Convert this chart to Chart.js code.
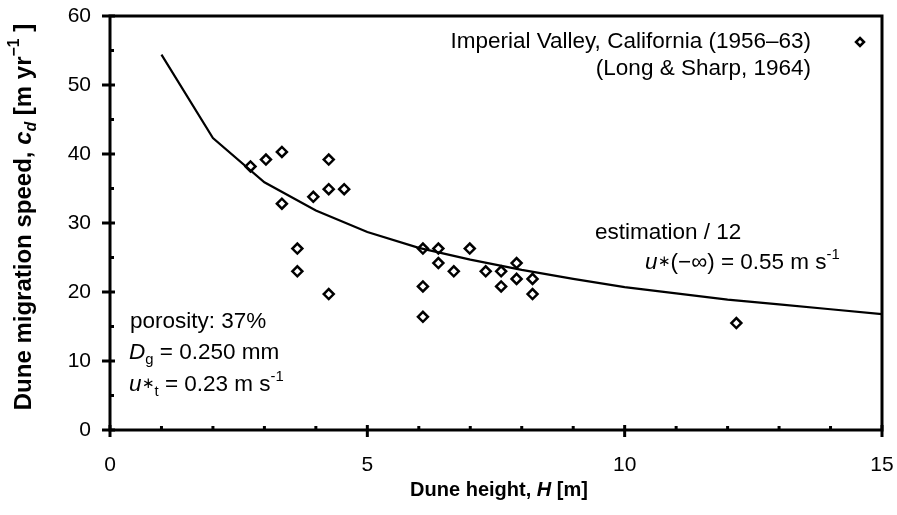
<!DOCTYPE html>
<html>
<head>
<meta charset="utf-8">
<script src="https://cdn.jsdelivr.net/npm/chart.js@4/dist/chart.umd.min.js"></script>
<style>
html,body{margin:0;padding:0;background:#fff;}
#wrap{width:897px;height:515px;position:relative;}
</style>
</head>
<body>
<div id="wrap"><canvas id="c" width="897" height="515"></canvas></div>
<script>
// ---- data ----
const curveH = [1, 2, 3, 4, 5, 6, 7, 8, 9, 10, 11, 12, 13, 14, 15];
const curveC = [54.4, 42.3, 35.9, 31.8, 28.7, 26.4, 24.7, 23.2, 21.9, 20.7, 19.8, 18.9, 18.2, 17.5, 16.8];
const obsH = [2.73, 3.03, 3.34, 3.34, 3.64, 3.64, 3.95, 4.25, 4.25, 4.25, 4.55,
              6.08, 6.08, 6.08, 6.38, 6.38, 6.68, 6.99, 7.30, 7.60, 7.60, 7.90, 7.90, 8.21, 8.21, 12.17];
const obsC = [38.2, 39.2, 40.3, 32.8, 26.3, 23.0, 33.8, 39.2, 34.9, 19.7, 34.9,
              26.3, 20.8, 16.4, 26.3, 24.2, 23.0, 26.3, 23.0, 23.0, 20.8, 24.2, 21.9, 21.9, 19.7, 15.5];
const xTicks = [0, 5, 10, 15];
const yTicks = [0, 10, 20, 30, 40, 50, 60];
const legendLines = ['Imperial Valley, California (1956\u201363)', '(Long & Sharp, 1964)'];

const FONT = '"Liberation Sans", Arial, Helvetica, sans-serif';

function drawRich(ctx, segs, x, y, align, size, weight) {
  const parts = segs.map(s => {
    const o = (typeof s === 'string') ? {t: s} : s;
    const sz = (o.sub || o.sup || o.small) ? size * 0.66 : size;
    const font = (o.i ? 'italic ' : '') + (weight || 'normal') + ' ' + sz + 'px ' + FONT;
    ctx.font = font;
    const w = ctx.measureText(o.t).width;
    let dy = 0;
    if (o.sub) dy = size * 0.3;
    if (o.sup) dy = -size * 0.38;
    if (o.small) dy = -size * 0.05;
    return {t: o.t, font, w, dy, dx: o.dx || 0};
  });
  const total = parts.reduce((a, p) => a + p.w + p.dx, 0);
  let cx = x;
  if (align === 'right') cx = x - total;
  else if (align === 'center') cx = x - total / 2;
  ctx.textBaseline = 'middle';
  ctx.textAlign = 'left';
  for (const p of parts) {
    cx += p.dx;
    ctx.font = p.font;
    ctx.fillText(p.t, cx, y + p.dy);
    cx += p.w;
  }
}

function diamond(ctx, x, y, r) {
  ctx.beginPath();
  ctx.moveTo(x, y - r); ctx.lineTo(x + r, y); ctx.lineTo(x, y + r); ctx.lineTo(x - r, y); ctx.closePath();
  ctx.fillStyle = '#fff'; ctx.fill();
  ctx.lineWidth = 2.5; ctx.strokeStyle = '#000'; ctx.stroke();
}

const decor = {
  id: 'decor',
  afterDraw(chart) {
    const ctx = chart.ctx;
    const xs = chart.scales.x, ys = chart.scales.y;
    const L = chart.chartArea.left, R = chart.chartArea.right, T = chart.chartArea.top, B = chart.chartArea.bottom;
    ctx.save();
    ctx.strokeStyle = '#000';
    ctx.fillStyle = '#000';
    // frame
    ctx.lineWidth = 3;
    ctx.strokeRect(L, T, R - L, B - T);
    // ticks
    for (let v = 0; v <= 15; v++) {
      const px = xs.getPixelForValue(v);
      ctx.beginPath();
      if (v % 5 === 0) { ctx.moveTo(px, B + 7); ctx.lineTo(px, B - 5); }
      else { ctx.moveTo(px, B); ctx.lineTo(px, B - 4); }
      ctx.stroke();
    }
    for (let v = 0; v <= 60; v += 5) {
      const py = ys.getPixelForValue(v);
      ctx.beginPath();
      if (v % 10 === 0) { ctx.moveTo(L - 8, py); ctx.lineTo(L + 5, py); }
      else { ctx.moveTo(L, py); ctx.lineTo(L + 4, py); }
      ctx.stroke();
    }
    ctx.fillStyle = '#000';
    // axis titles
    drawRich(ctx, ['Dune height, ', {t: 'H', i: true}, ' [m]'], 499, 490, 'center', 20, 'bold');
    ctx.save();
    ctx.translate(24, 217);
    ctx.rotate(-Math.PI / 2);
    drawRich(ctx, ['Dune migration speed, ', {t: 'c', i: true}, {t: 'd', sub: true, i: true}, ' [m yr', {t: '\u22121', sup: true}, ' ]'], 0, 0, 'center', 24, 'bold');
    ctx.restore();
    // legend
    drawRich(ctx, [legendLines[0]], 811, 42, 'right', 22.5, 'normal');
    drawRich(ctx, [legendLines[1]], 811, 69, 'right', 22.5, 'normal');
    diamond(ctx, 860, 42, 4);
    ctx.fillStyle = '#000';
    // annotations
    drawRich(ctx, ['estimation / 12'], 595, 233, 'left', 22.5, 'normal');
    drawRich(ctx, [{t: 'u', i: true}, {t: '\u2217', small: true}, '(\u2212\u221E) = 0.55 m s', {t: '-1', sup: true}], 645, 263, 'left', 22.5, 'normal');
    drawRich(ctx, ['porosity: 37%'], 130, 322, 'left', 22.5, 'normal');
    drawRich(ctx, [{t: 'D', i: true}, {t: 'g', sub: true}, ' = 0.250 mm'], 129, 353, 'left', 22.5, 'normal');
    drawRich(ctx, [{t: 'u', i: true}, {t: '\u2217', small: true}, {t: 't', sub: true}, ' = 0.23 m s', {t: '-1', sup: true}], 129, 385, 'left', 22.5, 'normal');
    ctx.restore();
  }
};

new Chart(document.getElementById('c'), {
  type: 'scatter',
  data: {
    datasets: [
      {
        label: 'estimation / 12',
        data: curveH.map((h, i) => ({x: h, y: curveC[i]})),
        showLine: true,
        borderColor: '#000',
        borderWidth: 2.2,
        pointRadius: 0,
        tension: 0,
        fill: false
      },
      {
        label: legendLines.join(' '),
        data: obsH.map((h, i) => ({x: h, y: obsC[i]})),
        pointStyle: 'rectRot',
        pointRadius: 5,
        pointBorderWidth: 2.5,
        pointBorderColor: '#000',
        pointBackgroundColor: '#fff',
        showLine: false
      }
    ]
  },
  options: {
    responsive: false,
    animation: false,
    devicePixelRatio: 1,
    layout: {padding: {left: 0, right: 15, top: 16, bottom: 0}},
    plugins: {legend: {display: false}, tooltip: {enabled: false}},
    scales: {
      x: {
        type: 'linear', min: 0, max: 15,
        afterBuildTicks: s => { s.ticks = xTicks.map(v => ({value: v})); },
        afterFit: s => { s.height = 85; s.paddingLeft = 0; s.paddingRight = 0; },
        grid: {display: false, drawTicks: false},
        border: {display: false},
        ticks: {color: '#000', font: {family: FONT, size: 21}, padding: 23, maxRotation: 0}
      },
      y: {
        type: 'linear', min: 0, max: 60,
        afterBuildTicks: s => { s.ticks = yTicks.map(v => ({value: v})); },
        afterFit: s => { s.width = 110; s.paddingTop = 0; s.paddingBottom = 0; },
        grid: {display: false, drawTicks: false},
        border: {display: false},
        ticks: {color: '#000', font: {family: FONT, size: 21}, padding: 19}
      }
    }
  },
  plugins: [decor]
});
</script>
</body>
</html>
